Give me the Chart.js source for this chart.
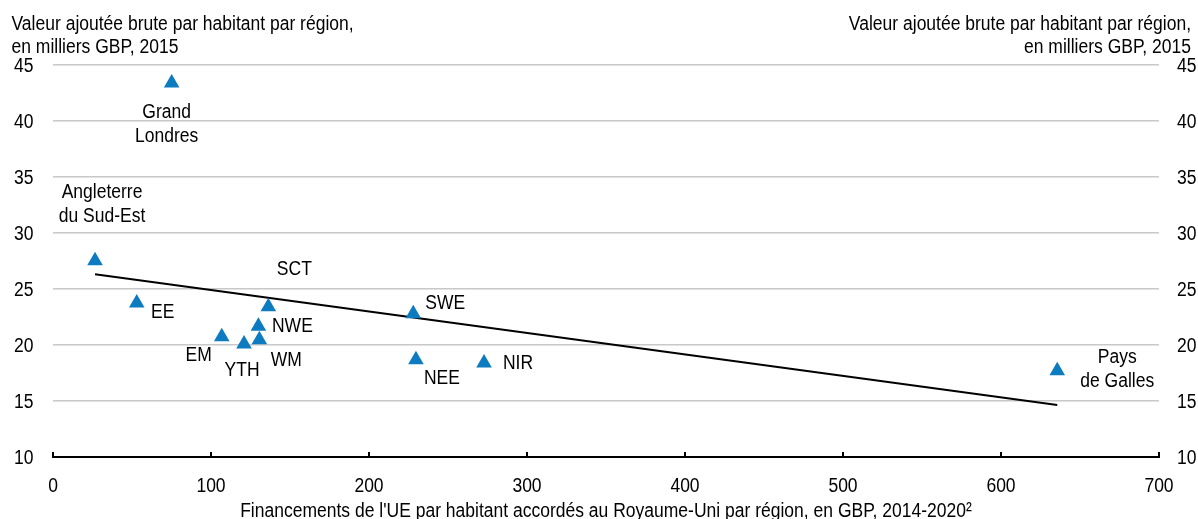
<!DOCTYPE html>
<html>
<head>
<meta charset="utf-8">
<script src="https://cdn.jsdelivr.net/npm/chart.js@4.4.1/dist/chart.umd.min.js"></script>
<style>
  html, body { margin: 0; padding: 0; background: #fff; }
  #wrap { width: 1198px; height: 519px; position: relative; }
</style>
</head>
<body>
<div id="wrap"><canvas id="gva_chart" width="1198" height="519"></canvas></div>
<script>
// Regions (UK), EU funding per head vs GVA per head
const region_names   = ['Grand Londres', 'Angleterre du Sud-Est', 'EE', 'SCT', 'NWE', 'EM', 'WM', 'YTH', 'SWE', 'NEE', 'NIR', 'Pays de Galles']
const region_labels  = [['Grand', 'Londres'], ['Angleterre', 'du Sud-Est'], ['EE'], ['SCT'], ['NWE'], ['EM'], ['WM'], ['YTH'], ['SWE'], ['NEE'], ['NIR'], ['Pays', 'de Galles']]
const eu_funding_gbp = [75.1, 26.6, 53.0, 136.3, 130.0, 106.8, 130.6, 120.9, 228.0, 229.7, 272.8, 635.6]
const gva_thousands  = [43.39, 27.53, 23.75, 23.42, 21.67, 20.74, 20.47, 20.09, 22.79, 18.69, 18.39, 17.71]

// trend line end points
const trend_x = [26.6, 635.6]
const trend_y = [26.31, 14.64]

const x_ticks = [0, 100, 200, 300, 400, 500, 600, 700]
const y_ticks = [10, 15, 20, 25, 30, 35, 40, 45]

const y_title_lines = ['Valeur ajoutée brute par habitant par région,', 'en milliers GBP, 2015']
const x_title = "Financements de l'UE par habitant accordés au Royaume-Uni par région, en GBP, 2014-2020²"

// label placement relative to each marker (px), same order as region_names
const label_offsets = [[-5, 29], [7, -68], [26, 9], [26, -37], [34, 0], [-23, 19], [27, 21], [-2, 26], [32, -10], [26, 19], [34, 0], [60, -13]]

const FONT = '"Liberation Sans", Arial, sans-serif'
const FONT_SIZE = 20
const TEXT_SQUEEZE = 0.875   // the source uses a narrow face

function draw_text(ctx, txt, x, y, align, baseline) {
  ctx.save()
  ctx.translate(x, y)
  ctx.scale(TEXT_SQUEEZE, 1)
  ctx.textAlign = align
  ctx.textBaseline = baseline
  ctx.fillText(txt, 0, 0)
  ctx.restore()
}

const extras_plugin = {
  id: 'extras',
  afterDraw(chart) {
    const ctx = chart.ctx
    const area = chart.chartArea
    const xs = chart.scales.x
    const ys = chart.scales.y
    ctx.save()
    ctx.fillStyle = '#000'
    ctx.font = `${FONT_SIZE}px ${FONT}`

    // point labels
    const meta = chart.getDatasetMeta(0)
    meta.data.forEach((pt, i) => {
      region_labels[i].forEach((txt, j) => {
        draw_text(ctx, txt, pt.x + label_offsets[i][0], pt.y + label_offsets[i][1] + j * 24, 'center', 'middle')
      })
    })

    // tick labels
    x_ticks.forEach(v => {
      draw_text(ctx, String(v), xs.getPixelForValue(v), area.bottom + 29, 'center', 'middle')
    })
    y_ticks.forEach(v => {
      const py = ys.getPixelForValue(v) + 1
      draw_text(ctx, String(v), area.left - 19.5, py, 'right', 'middle')
      draw_text(ctx, String(v), area.right + 18, py, 'left', 'middle')
    })

    // axis titles at top, left and right
    draw_text(ctx, y_title_lines[0], 11.5, 30, 'left', 'alphabetic')
    draw_text(ctx, y_title_lines[1], 11.5, 53, 'left', 'alphabetic')
    draw_text(ctx, y_title_lines[0], 1191, 30, 'right', 'alphabetic')
    draw_text(ctx, y_title_lines[1], 1191, 53, 'right', 'alphabetic')

    // x title
    draw_text(ctx, x_title, (area.left + area.right) / 2, 517, 'center', 'alphabetic')

    // upward ticks on x axis
    ctx.strokeStyle = '#000'
    ctx.lineWidth = 2
    x_ticks.forEach(v => {
      const px = Math.round(xs.getPixelForValue(v))
      ctx.beginPath()
      ctx.moveTo(px, area.bottom)
      ctx.lineTo(px, area.bottom - 5)
      ctx.stroke()
    })
    ctx.restore()
  }
}

const ctx = document.getElementById('gva_chart').getContext('2d')

const chart = new Chart(ctx, {
  type: 'scatter',
  data: {
    datasets: [
      {
        label: 'Régions',
        data: eu_funding_gbp.map((v, i) => ({x: v, y: gva_thousands[i]})),
        pointStyle: 'triangle',
        pointRadius: 9,
        pointHoverRadius: 9,
        backgroundColor: '#0c7bc0',
        borderColor: '#0c7bc0',
        borderWidth: 0,
        order: 1
      },
      {
        label: 'Tendance',
        type: 'line',
        data: trend_x.map((v, i) => ({x: v, y: trend_y[i]})),
        borderColor: '#000',
        borderWidth: 2,
        pointRadius: 0,
        fill: false,
        order: 2
      }
    ]
  },
  options: {
    responsive: false,
    animation: false,
    devicePixelRatio: 1,
    layout: { padding: { top: 65, left: 0, right: 0, bottom: 0 } },
    plugins: {
      legend: { display: false },
      tooltip: { enabled: false },
      title: { display: false }
    },
    scales: {
      x: {
        type: 'linear',
        min: 0,
        max: 700,
        afterBuildTicks: s => { s.ticks = x_ticks.map(v => ({value: v})) },
        ticks: { display: false },
        grid: { display: false, drawTicks: false },
        border: { display: true, color: '#000', width: 2 },
        afterFit: s => { s.height = 62 }
      },
      y: {
        position: 'left',
        min: 10,
        max: 45,
        afterBuildTicks: s => { s.ticks = y_ticks.map(v => ({value: v})) },
        ticks: { display: false },
        grid: {
          drawTicks: false,
          lineWidth: 1.5,
          color: c => (c.tick && c.tick.value === 10) ? 'rgba(0,0,0,0)' : '#c8c8c8'
        },
        border: { display: false },
        afterFit: s => { s.width = 53 }
      },
      y2: {
        position: 'right',
        min: 10,
        max: 45,
        afterBuildTicks: s => { s.ticks = y_ticks.map(v => ({value: v})) },
        ticks: { display: false },
        grid: { display: false, drawTicks: false },
        border: { display: false },
        afterFit: s => { s.width = 39 }
      }
    }
  },
  plugins: [extras_plugin]
})
</script>
</body>
</html>
